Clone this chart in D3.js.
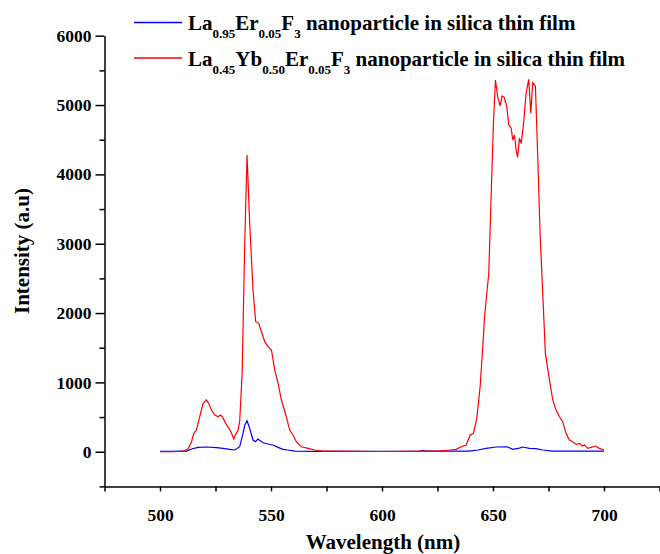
<!DOCTYPE html>
<html>
<head>
<meta charset="utf-8">
<script src="https://cdn.jsdelivr.net/npm/d3@7"></script>
<style>
html,body{margin:0;padding:0;background:#fff;}
svg text{font-family:"Liberation Serif","Times New Roman",serif;font-weight:bold;fill:#000;}
</style>
</head>
<body>
<svg id="chart" width="660" height="554"></svg>
<script>
// ---- data ----
const redWavelength = [500,505,508,510.3,512.6,514.2,515.2,516.4,517.9,519.4,520.9,521.9,523.2,524.7,526.2,527.2,528.1,529.6,531.1,532.2,533.2,534.1,535.2,535.9,537,538.2,539.2,540.4,541.9,543.1,544.5,545.7,547.2,548.6,550.2,551.7,553.2,554.7,556.9,558.4,559.9,561.4,563.7,566.7,569.7,573.4,580,590,600,610,620,625,630.5,633.4,635.7,637.9,639.7,641.2,642.7,644.2,645.4,646.2,647.2,648.1,649.2,650.2,651.1,652.1,653.2,654.1,655.1,656.2,657.1,658.2,658.9,659.7,660.4,661.1,661.9,662.7,663.7,664.9,666.1,667,667.9,669.1,670.2,671.2,672.4,673.6,675.1,676.9,678.4,679.9,681.4,682.9,684.4,685.9,687.5,689,690.2,691.2,692.7,694.2,696.1,697.9,699.9,700];
const redIntensity = [0,0,3,8,35,144,265,313,505,698,746,698,601,529,505,529,505,409,337,265,183,250,313,440,1135,3053,4280,3294,2332,1875,1852,1731,1587,1515,1467,1178,987,746,505,313,241,144,72,49,25,10,8,5,3,5,8,10,25,35,72,96,241,265,481,938,1515,1947,2285,2573,3727,4737,5361,5121,4987,5130,5112,4977,4713,4665,4496,4568,4352,4246,4520,4448,4713,5169,5371,4881,5323,5275,4208,3150,2285,1419,1100,750,600,505,433,265,169,144,106,120,82,97,49,63,82,49,25,20];
const blueWavelength = [500,505,510,512,514.2,517.2,521,525.4,528.4,531.4,533.7,535.9,537.4,538.2,539.2,540.4,541.9,543,544.1,546.4,548.6,550.9,553.2,555.4,557.6,560.7,570,600,617,618.6,620,639.4,643.2,646.9,651.4,656.3,658.9,661.9,663.4,666.4,669.4,672.4,676.9,690,700];
const blueIntensity = [5,5,8,10,39,63,68,58,49,35,25,72,265,385,447,337,169,144,183,130,111,97,63,35,25,10,5,5,8,18,8,10,25,49,68,72,35,53,68,49,44,25,10,8,8];
const xMajorTicks = [500,550,600,650,700];
const xAllTicks = [475,500,525,550,575,600,625,650,675,700,725];
const yMajorTicks = [0,1000,2000,3000,4000,5000,6000];
const yMinorTicks = [-500,500,1500,2500,3500,4500,5500];
const seriesNames = [
  [["La",""],["0.95","sub"],["Er",""],["0.05","sub"],["F",""],["3","sub"],[" nanoparticle in silica thin film",""]],
  [["La",""],["0.45","sub"],["Yb",""],["0.50","sub"],["Er",""],["0.05","sub"],["F",""],["3","sub"],[" nanoparticle in silica thin film",""]]
];
const seriesColors = ["#0000ff","#ff0000"];

// ---- layout ----
const svg = d3.select("#chart");
const x = d3.scaleLinear().domain([475,725]).range([104.5,659.5]);
const y = d3.scaleLinear().domain([-500,6000]).range([486.4,35.7]);

const fmt = d3.format("d");

// x axis
const gx = svg.append("g").attr("transform",`translate(0,${y(-500)})`);
gx.call(d3.axisBottom(x).tickValues(xAllTicks).tickSize(5).tickSizeOuter(0)
  .tickFormat(d => xMajorTicks.includes(d) ? fmt(d) : ""));
gx.select(".domain").attr("stroke","#000").attr("stroke-width",1.5);
gx.selectAll(".tick line").attr("stroke","#000").attr("stroke-width",1.5);
gx.selectAll(".tick text").attr("font-size","17.5px").attr("dy","0").attr("y",35)
  .style("font-family",'"Liberation Serif","Times New Roman",serif').style("font-weight","bold");

// y axis minor
const gyMinor = svg.append("g").attr("transform",`translate(${x(475)},0)`);
gyMinor.call(d3.axisLeft(y).tickValues(yMinorTicks).tickSize(5).tickSizeOuter(0).tickFormat(""));
gyMinor.select(".domain").remove();
gyMinor.selectAll(".tick line").attr("stroke","#000").attr("stroke-width",1.5);

// y axis major
const gy = svg.append("g").attr("transform",`translate(${x(475)},0)`);
gy.call(d3.axisLeft(y).tickValues(yMajorTicks).tickSize(9).tickSizeOuter(0).tickPadding(4).tickFormat(fmt));
gy.select(".domain").attr("stroke","#000").attr("stroke-width",1.5);
gy.selectAll(".tick line").attr("stroke","#000").attr("stroke-width",1.5);
gy.selectAll(".tick text").attr("font-size","17.5px")
  .style("font-family",'"Liberation Serif","Times New Roman",serif').style("font-weight","bold");

// axis titles
svg.append("text").attr("x",383).attr("y",549).attr("text-anchor","middle")
  .attr("font-size","21px").text("Wavelength (nm)");
svg.append("text").attr("transform","translate(29,251) rotate(-90)").attr("text-anchor","middle")
  .attr("font-size","21px").text("Intensity (a.u)");

// lines
const line = d3.line().x(d => x(d[0])).y(d => y(d[1]));
const blueData = blueWavelength.map((w,i) => [w, blueIntensity[i]]);
const redData = redWavelength.map((w,i) => [w, redIntensity[i]]);
svg.append("path").datum(blueData).attr("d",line).attr("fill","none")
  .attr("stroke",seriesColors[0]).attr("stroke-width",1.2);
svg.append("path").datum(redData).attr("d",line).attr("fill","none")
  .attr("stroke",seriesColors[1]).attr("stroke-width",1.2);

// legend
const legendY = [29.5, 65.5];
const lineY = [22.5, 58];
seriesNames.forEach((parts,i) => {
  svg.append("line").attr("x1",134).attr("x2",182).attr("y1",lineY[i]).attr("y2",lineY[i])
    .attr("stroke",seriesColors[i]).attr("stroke-width",1.3);
  const t = svg.append("text").attr("x",188).attr("y",legendY[i]).attr("font-size","21px");
  let shifted = false;
  parts.forEach(([s,kind]) => {
    const ts = t.append("tspan").text(s);
    if (kind === "sub") {
      ts.attr("font-size","13px").attr("dy", shifted ? 0 : 8);
      shifted = true;
    } else {
      ts.attr("dy", shifted ? -8 : 0);
      shifted = false;
    }
  });
});
</script>
</body>
</html>
